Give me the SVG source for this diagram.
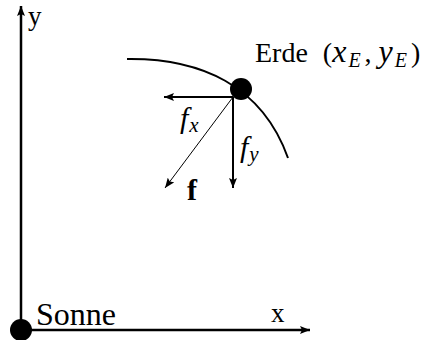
<svg xmlns="http://www.w3.org/2000/svg" width="436" height="340" viewBox="0 0 436 340">
<defs>
<marker id="ah" viewBox="0 0 10 8" refX="10" refY="4" markerWidth="10" markerHeight="8" markerUnits="userSpaceOnUse" orient="auto">
<path d="M0,0 L10,4 L0,8 L2,4 Z" fill="#000"/>
</marker>
</defs>
<style>
text{font-family:"Liberation Serif","Times New Roman",serif;fill:#000}
.ax{stroke:#000;stroke-width:2.5;fill:none}
.vec{stroke:#000;stroke-width:2;fill:none}
.thin{stroke:#000;stroke-width:1;fill:none}
.it{font-style:italic}
</style>
<g id="connectors">
<line class="ax" x1="21" y1="330" x2="21" y2="6" marker-end="url(#ah)"/>
<line class="ax" x1="21" y1="330" x2="310" y2="330" marker-end="url(#ah)"/>
<path id="orbit" class="vec" d="M127,59 C200,58 262,85 288,158"/>
<line class="vec" x1="233" y1="97" x2="164" y2="97" marker-end="url(#ah)"/>
<line class="vec" x1="233" y1="97" x2="233" y2="188" marker-end="url(#ah)"/>
<line class="thin" x1="233" y1="97" x2="165" y2="188" marker-end="url(#ah)"/>
</g>
<g id="sonne">
<circle cx="21" cy="330" r="11" fill="#000"/>
<text x="36" y="325" font-size="32">Sonne</text>
</g>
<g id="erde">
<circle cx="241" cy="89" r="11" fill="#000"/>
<text x="255" y="62" font-size="28">Erde <tspan dx="8">(</tspan><tspan class="it" font-size="32">x</tspan><tspan class="it" font-size="20" dx="2" dy="5">E</tspan><tspan dx="4" dy="-5">,</tspan><tspan class="it" font-size="32" dx="7">y</tspan><tspan class="it" font-size="20" dx="2" dy="5">E</tspan><tspan dx="4" dy="-5">)</tspan></text>
</g>
<g id="labels">
<text x="28" y="25" font-size="27">y</text>
<text x="271" y="322" font-size="27">x</text>
<text x="180" y="128" font-size="30" class="it">f<tspan font-size="21" dx="1" dy="4">x</tspan></text>
<text x="240" y="157" font-size="30" class="it">f<tspan font-size="21" dx="1" dy="4">y</tspan></text>
<text x="187" y="200" font-size="30" font-weight="bold">f</text>
</g>
</svg>
